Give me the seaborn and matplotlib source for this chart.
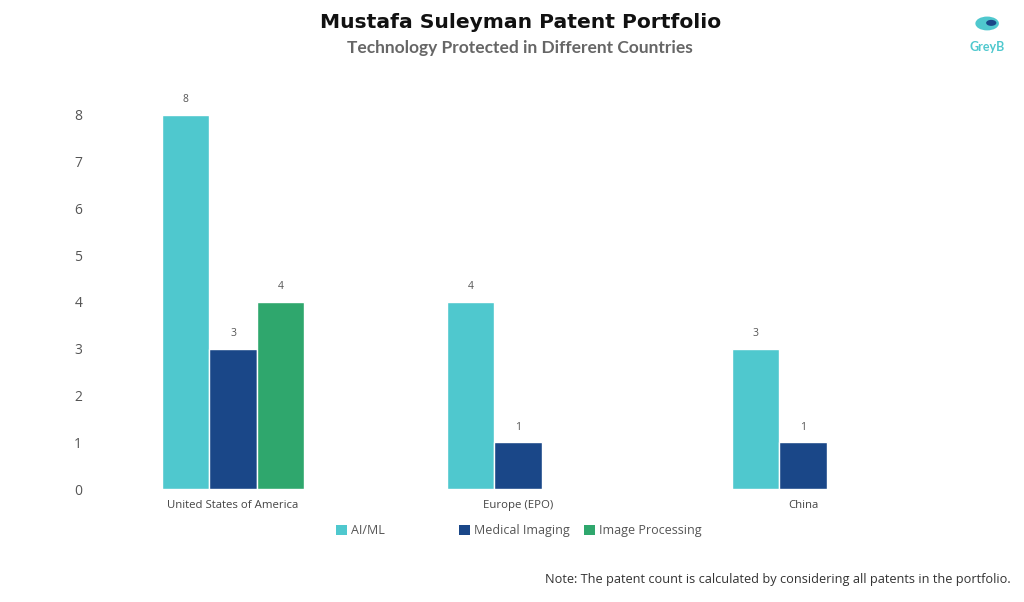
import matplotlib
matplotlib.use("Agg")
import matplotlib.pyplot as plt
import matplotlib.patches as mpatches
import seaborn as sns
import pandas as pd

countries = ["United States of America", "Europe (EPO)", "China"]
technologies = ["AI/ML", "Medical Imaging", "Image Processing"]
# (country, technology, count)
rec_country = ["United States of America", "United States of America", "United States of America",
               "Europe (EPO)", "Europe (EPO)", "China", "China"]
rec_tech = ["AI/ML", "Medical Imaging", "Image Processing",
            "AI/ML", "Medical Imaging", "AI/ML", "Medical Imaging"]
rec_count = [8, 3, 4, 4, 1, 3, 1]
colors = ["#4FC8CE", "#1A4788", "#2FA76D"]
yticks = [0, 1, 2, 3, 4, 5, 6, 7, 8]

df = pd.DataFrame({"country": rec_country, "tech": rec_tech, "count": rec_count})

sns.set_theme(style="white")
plt.rcParams["font.family"] = ["Open Sans", "DejaVu Sans"]

fig = plt.figure(figsize=(10.24, 6.02), dpi=100)
ax = fig.add_axes([0.0884, 0.1877, 0.835, 0.699])

sns.barplot(data=df, x="country", y="count", hue="tech", order=countries,
            hue_order=technologies, palette=colors, width=0.5, ax=ax,
            saturation=1, errorbar=None, legend=True)

ax.set_xlim(-0.5, 2.5)
ax.set_ylim(0, 9)
ax.set_yticks(yticks)
ax.set_yticklabels([str(t) for t in yticks], fontsize=10, color="#555555")
ax.tick_params(axis="x", labelsize=8.2, colors="#444444", length=0, pad=8)
ax.tick_params(axis="y", length=0, pad=6)
ax.set_xlabel("")
ax.set_ylabel("")
for s in ax.spines.values():
    s.set_visible(False)
ax.grid(False)

for cont in ax.containers:
    for bar in cont:
        h = bar.get_height()
        if h and h > 0:
            ax.annotate(f"{int(h)}", (bar.get_x() + bar.get_width() / 2, h),
                        xytext=(0, 7), textcoords="offset points",
                        ha="center", va="bottom", fontsize=7.5, color="#555555")

if ax.get_legend() is not None:
    ax.get_legend().remove()
leg_x = [0.328, 0.448, 0.570]
for t, c, lx in zip(technologies, colors, leg_x):
    h = mpatches.Patch(facecolor=c, edgecolor="none")
    lg = fig.legend(handles=[h], labels=[t], loc="center left",
                    bbox_to_anchor=(lx, 0.118), frameon=False,
                    handlelength=0.9, handleheight=0.9, handletextpad=0.3,
                    borderpad=0, borderaxespad=0,
                    prop={"family": "Open Sans", "size": 9})
    for txt in lg.get_texts():
        txt.set_color("#555555")

fig.text(0.508, 0.963, "Mustafa Suleyman Patent Portfolio", ha="center", va="center",
         fontsize=14.6, fontweight="bold", color="#111111", family="DejaVu Sans")
fig.text(0.508, 0.920, "Technology Protected in Different Countries", ha="center",
         va="center", fontsize=12.5, fontweight="bold", color="#666666", family="Lato")

fig.text(0.987, 0.038, "Note: The patent count is calculated by considering all patents in the portfolio.",
         ha="right", va="center", fontsize=9.2, color="#333333")

# logo
fig.text(0.964, 0.922, "GreyB", ha="center", va="center", fontsize=9,
         fontweight="bold", color="#4FC8CE", family="Lato")
logo = mpatches.Circle((0.964, 0.961), 0.0115, transform=fig.transFigure,
                       facecolor="#4FC8CE", edgecolor="none")
fig.patches.append(logo)
logo2 = mpatches.Circle((0.968, 0.962), 0.005, transform=fig.transFigure,
                        facecolor="#1A4788", edgecolor="none")
fig.patches.append(logo2)

fig.savefig("out.png", dpi=100)
